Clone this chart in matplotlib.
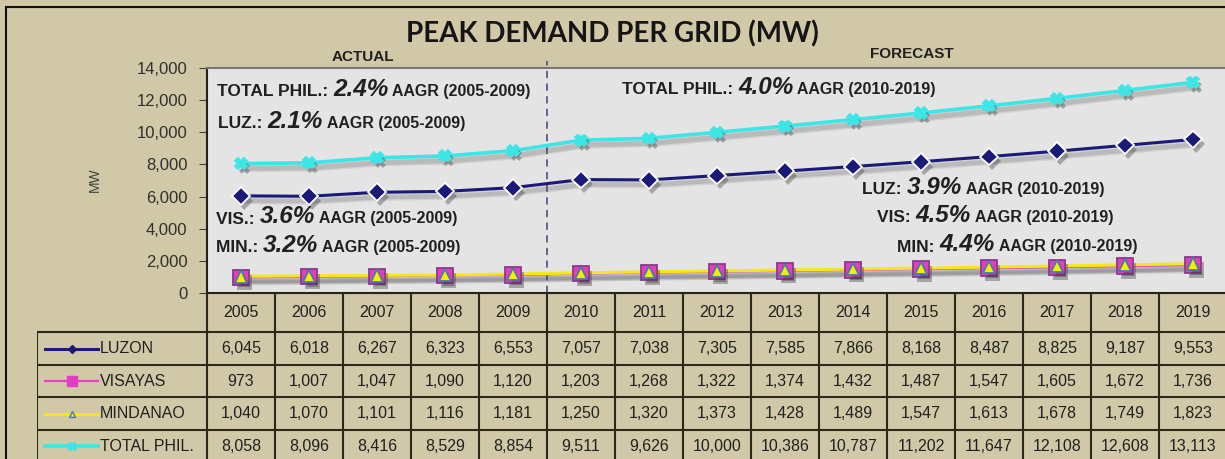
import matplotlib
matplotlib.use("Agg")
import matplotlib.pyplot as plt
import matplotlib.patheffects as pe
from matplotlib.patches import Rectangle

# data (MW)
years = ["2005", "2006", "2007", "2008", "2009", "2010", "2011", "2012",
         "2013", "2014", "2015", "2016", "2017", "2018", "2019"]
luzon = [6045, 6018, 6267, 6323, 6553, 7057, 7038, 7305, 7585, 7866, 8168, 8487, 8825, 9187, 9553]
visayas = [973, 1007, 1047, 1090, 1120, 1203, 1268, 1322, 1374, 1432, 1487, 1547, 1605, 1672, 1736]
mindanao = [1040, 1070, 1101, 1116, 1181, 1250, 1320, 1373, 1428, 1489, 1547, 1613, 1678, 1749, 1823]
total = [8058, 8096, 8416, 8529, 8854, 9511, 9626, 10000, 10386, 10787, 11202, 11647, 12108, 12608, 13113]
series_names = ["LUZON", "VISAYAS", "MINDANAO", "TOTAL PHIL."]

notes_actual = [("TOTAL PHIL.: ", "2.4%", " AAGR (2005-2009)"),
                ("LUZ.: ", "2.1%", " AAGR (2005-2009)"),
                ("VIS.: ", "3.6%", " AAGR (2005-2009)"),
                ("MIN.: ", "3.2%", " AAGR (2005-2009)")]
notes_forecast = [("TOTAL PHIL.: ", "4.0%", " AAGR (2010-2019)"),
                  ("LUZ: ", "3.9%", " AAGR (2010-2019)"),
                  ("VIS: ", "4.5%", " AAGR (2010-2019)"),
                  ("MIN: ", "4.4%", " AAGR (2010-2019)")]

TAN = "#D0C8A6"
FONT = ["Liberation Sans", "DejaVu Sans"]
W, H = 1225, 459

fig = plt.figure(figsize=(W / 100, H / 100), dpi=100, facecolor=TAN)

# outer border
fig.patches.append(Rectangle((6, -10), W + 20, H - 7 + 10, transform=None,
                             fill=False, ec="#101010", lw=1.5))

# ---- main chart ----
ax = fig.add_axes([207 / W, 1 - 293 / H, 1020 / W, 225 / H])
ax.set_facecolor("#E4E4E4")
x = list(range(len(years)))


def line_shadow(lw):
    return [pe.SimpleLineShadow(offset=(2.5, -3.5), shadow_color="#505050", alpha=0.12,
                                linewidth=lw + 3),
            pe.SimpleLineShadow(offset=(2.5, -3.5), shadow_color="#505050", alpha=0.18,
                                linewidth=lw + 1),
            pe.Normal()]


mark_sh = [pe.SimplePatchShadow(offset=(2.5, -3.5), shadow_rgbFace="#303030", alpha=0.35),
           pe.Normal()]

styles = [
    (luzon, "#1A1A78", 2.2, "D", 9, "#1A1A78", "white"),
    (visayas, "#E840C8", 1.6, "s", 11, "#E040C0", "#8A3A8A"),
    (mindanao, "#F4E81C", 2.2, "^", 9, "#F0F000", "#4E78A8"),
    (total, "#3CE6E6", 2.6, "X", 8, "#3CE6E6", "#3CE6E6"),
]
for vals, col, lw, mk, ms, fc, ec in styles:
    ax.plot(x, vals, color=col, lw=lw, path_effects=line_shadow(lw), zorder=3)
    ax.plot(x, vals, ls="none", marker=mk, ms=ms, mfc=fc, mec=ec, mew=1.3,
            path_effects=mark_sh, zorder=4)

ax.set_xlim(-0.5, len(years) - 0.5)
ax.set_ylim(0, 14000)
ax.set_yticks(range(0, 14001, 2000))
ax.set_yticklabels([f"{v:,}" for v in range(0, 14001, 2000)], family=FONT,
                   fontsize=12, color="#303030")
ax.set_xticks([])
ax.tick_params(axis="y", length=6, color="#404040", pad=8)
for s in ["top", "right"]:
    ax.spines[s].set_color("#777777")
    ax.spines[s].set_linewidth(1.5)
for s in ["left", "bottom"]:
    ax.spines[s].set_color("#202020")
    ax.spines[s].set_linewidth(1.5)

ax.axvline(4.5, ymin=0, ymax=1.03, color="#5A5A8C", lw=1.3, ls=(0, (4, 3)),
           clip_on=False, zorder=2)

fig.text(95 / W, 1 - 180 / H, "MW", rotation=90, ha="center", va="center",
         family=FONT, fontsize=10, color="#404040")

# title and section labels
fig.text(612 / W, 1 - 34 / H, "PEAK DEMAND PER GRID (MW)", ha="center", va="center",
         family=["Lato", "DejaVu Sans"], fontweight="bold", fontsize=20, color="#151515")
fig.text(363 / W, 1 - 57 / H, "ACTUAL", ha="center", va="center", family=FONT,
         fontweight="bold", fontsize=11, color="#202020")
fig.text(912 / W, 1 - 54 / H, "FORECAST", ha="center", va="center", family=FONT,
         fontweight="bold", fontsize=11, color="#202020")


def rich(px, py, parts):
    pre, pct, post = parts
    t = ax.annotate(pre, xy=(px, H - py), xycoords="figure pixels", va="center",
                    ha="left", family=FONT, fontweight="bold", fontsize=12.5,
                    color="#202020")
    t = ax.annotate(pct, xy=(1, 0), xycoords=t, va="bottom", ha="left",
                    xytext=(0, -0.8), textcoords="offset points", family=FONT,
                    fontweight="bold", style="italic", fontsize=17.5, color="#202020")
    ax.annotate(post, xy=(1, 0), xycoords=t, va="bottom", ha="left",
                xytext=(0, 1.0), textcoords="offset points", family=FONT,
                fontweight="bold", fontsize=11.5, color="#202020")


for (px, py), parts in zip([(217, 92), (218, 124), (216, 219), (216, 248)], notes_actual):
    rich(px, py, parts)
for (px, py), parts in zip([(622, 90), (862, 190), (877, 218), (897, 247)], notes_forecast):
    rich(px, py, parts)

# ---- data table ----
tab = fig.add_axes([37 / W, 1 - 462 / H, 1190 / W, 169 / H])
tab.set_xlim(-3.0, len(years) - 0.5)
tab.set_ylim(462, 293)
tab.axis("off")
tab.patch.set_alpha(0)

row_edges = [293, 332, 365, 397, 430, 462]
bc = "#2E2818"
blw = 1.5
n = len(years)
# horizontal lines
tab.plot([-0.5, n - 0.5], [row_edges[0]] * 2, color=bc, lw=blw)
for yy in row_edges[1:]:
    tab.plot([-3.0, n - 0.5], [yy, yy], color=bc, lw=blw)
# vertical lines
for i in range(n + 1):
    tab.plot([i - 0.5, i - 0.5], [row_edges[0], row_edges[-1]], color=bc, lw=blw)
tab.plot([-3.0, -3.0], [row_edges[1], row_edges[-1]], color=bc, lw=blw)

for i, yr in enumerate(years):
    tab.text(i, (row_edges[0] + row_edges[1]) / 2, yr, ha="center", va="center",
             family=FONT, fontsize=11.5, color="#202020")

rows = [luzon, visayas, mindanao, total]
for r, vals in enumerate(rows):
    yc = (row_edges[r + 1] + row_edges[r + 2]) / 2
    for i, v in enumerate(vals):
        tab.text(i, yc, f"{v:,}", ha="center", va="center", family=FONT,
                 fontsize=11.5, color="#202020")
    vals_, col, lw, mk, ms, fc, ec = styles[r]
    tab.plot([-2.88, -2.10], [yc, yc], color=col, lw=lw)
    leg_ms = {"D": 4, "s": 7, "^": 5, "X": 6}[mk]
    leg_fc = "none" if mk == "^" else fc
    tab.plot([-2.49], [yc], ls="none", marker=mk, ms=leg_ms, mfc=leg_fc,
             mec=ec if mk == "^" else fc, mew=1)
    tab.text(-2.08, yc, series_names[r], ha="left", va="center", family=FONT,
             fontsize=11.5, color="#202020")

fig.savefig("out.png", dpi=100, facecolor=TAN)
